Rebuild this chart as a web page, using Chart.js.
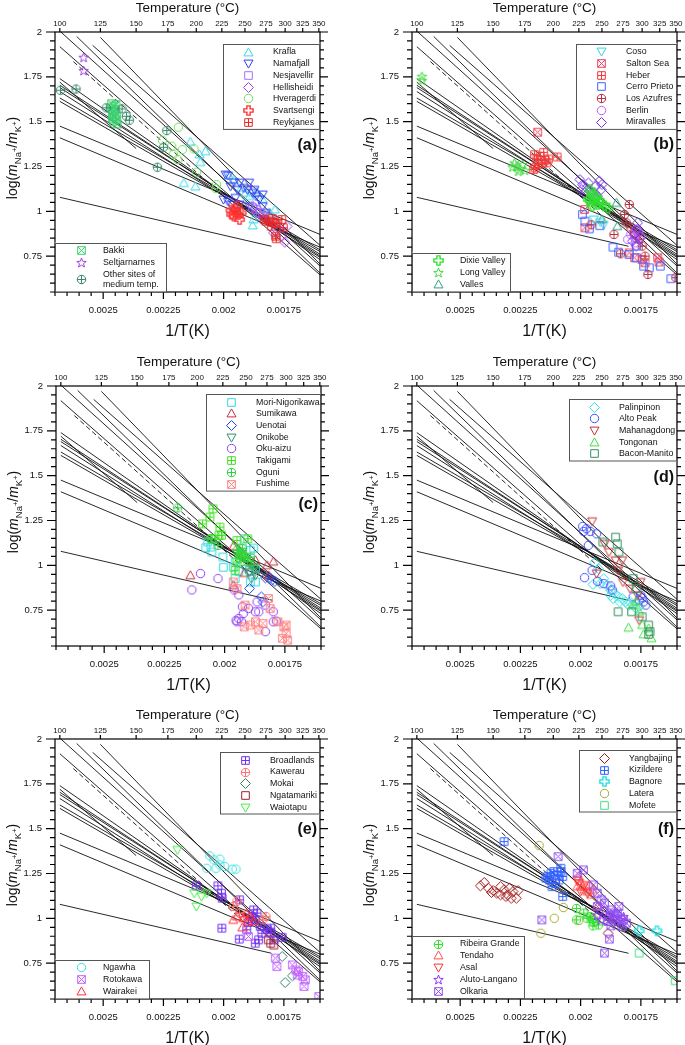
<!DOCTYPE html>
<html>
<head>
<meta charset="utf-8">
<script src="https://cdn.jsdelivr.net/npm/chart.js@4.4.1/dist/chart.umd.min.js"></script>
<style>
  body { margin: 0; background: #fff; width: 685px; height: 1045px; position: relative; overflow: hidden; }
  canvas { position: absolute; }
</style>
</head>
<body>
<script>
// axis ticks
const tempTicks = [100, 125, 150, 175, 200, 225, 250, 275, 300, 325, 350];
const invTTicks = [0.0025, 0.00225, 0.002, 0.00175];
const invTLabels = ['0.0025', '0.00225', '0.002', '0.00175'];
const logTicks = [0.75, 1, 1.25, 1.5, 1.75, 2];
const logLabels = ['0.75', '1', '1.25', '1.5', '1.75', '2'];

// Na/K geothermometer lines (start / end temperature in °C and log value)
const lineStartT = [100, 110, 125, 120, 100, 100, 100, 100, 100, 100, 100, 100, 100, 100, 100];
const lineStartLog = [2.005, 1.975, 1.97, 1.925, 1.918, 1.74, 1.72, 1.703, 1.69, 1.668, 1.632, 1.613, 1.475, 1.41, 1.078];
const lineEndT = [352, 352, 352, 352, 352, 352, 150, 352, 352, 352, 352, 352, 352, 352, 282];
const lineEndLog = [0.695, 0.655, 0.705, 0.81, 0.645, 0.73, 1.35, 0.75, 0.76, 0.743, 0.785, 0.775, 0.871, 0.80, 0.805];
const dashT = [108, 250];
const dashLog = [1.835, 0.975];

// (a) Iceland  [T °C, log(mNa/mK)]
const krafla = [[194.5,1.387],[208.7,1.335],[203,1.317],[203.7,1.274],[188.7,1.157],[199.2,1.138],[237.8,1.177],[245.8,1.131],[250.6,1.103],[263.7,1.108],[271,1.066],[260.1,0.954],[279.5,0.991],[286.4,1.01],[259,0.921],[232,1.2],[255,1.085]];
const namafjall = [[228.8,1.205],[231.4,1.2],[234,1.14],[237.8,1.162],[241.7,1.12],[244,1.16],[248.9,1.13],[252.8,1.12],[258.9,1.103],[263,1.084],[267,1.066],[239.4,1.075],[226.6,1.066],[231.4,1.056],[234.6,1.038],[244,1.038],[254.8,1.029],[271,1.029],[275,0.991],[261,1.12],[254.8,1.16],[271,1.094]];
const nesjavellir = [[263,1.01],[271,0.973],[279.5,0.964],[258.9,1.019],[286.8,0.936],[268,0.99]];
const hellisheidi = [[259,1.029],[265,0.991],[275,0.954],[288.7,0.899],[302.7,0.917],[295.5,0.861],[299.6,0.828],[284.5,0.88]];
const hveragerdi = [[183.9,1.469],[170.5,1.396],[178.2,1.363],[187.4,1.344],[179.5,1.317],[183.4,1.289],[197.9,1.348],[200.3,1.218],[219.6,1.149],[219,1.127]];
const svartsengi = [[235.3,0.982],[239.4,1.01],[242.6,0.982],[244,0.954],[237.8,0.973],[245.8,0.991],[241,1.029],[234.6,1.006],[240,0.995]];
const reykjanes = [[273,0.954],[279.5,0.945],[286.4,0.936],[288.9,0.932],[297.7,0.908],[281.8,0.917],[288.2,0.847],[287.3,0.861],[275,0.945],[295.5,0.954],[283,0.96]];
const bakki = [[132.5,1.6],[134.1,1.586],[135.2,1.567],[133,1.549],[134.6,1.53],[136,1.511],[133.6,1.502],[136.4,1.487],[132.5,1.576],[135.5,1.595],[134,1.56],[135.8,1.54],[133.2,1.52]];
const seltjarnarnes = [[114.3,1.859],[114.3,1.785]];
const otherSites = [[100.4,1.675],[109.6,1.682],[128.9,1.577],[139.8,1.571],[142.9,1.53],[145,1.508],[174.1,1.45],[171.4,1.357],[166.4,1.246]];

// (b) North and Central America
const coso = [[248,0.94],[252,0.925],[241,0.955]];
const saltonSea = [[185.9,1.441],[231.3,0.908],[231,1.01],[300,0.731],[322,0.741],[324,0.717],[290,0.741],[304,0.713],[283,0.768]];
const heber = [[183.2,1.316],[185.3,1.289],[186.8,1.261],[189.7,1.27],[192.6,1.285],[191.2,1.329],[195.6,1.292],[188.2,1.307],[183.8,1.242],[203.6,1.303],[182.4,1.233],[194.1,1.27]];
const cerroPrieto = [[228.7,0.982],[231.3,0.945],[236.1,0.902],[247.6,0.92],[262.8,0.8],[269.6,0.772],[282.7,0.759],[292.3,0.741],[292.3,0.806],[302,0.694],[310,0.685],[326,0.694],[342,0.624]];
const losAzufres = [[264,0.871],[272,0.763],[283,1.038],[277,0.982],[279,0.936],[290,0.88],[292,0.852],[300,0.806],[304,0.75],[308,0.648],[350,0.63],[238,0.925],[285,0.908],[296,0.843]];
const berlin = [[292,0.9],[295,0.88],[290,0.852],[298,0.861],[285,0.871],[281,0.843],[291,0.824]];
const miravalles = [[226,1.177],[229,1.149],[233,1.131],[237,1.112],[241,1.103],[245,1.084],[249,1.121],[235,1.158],[243,1.14],[247,1.168],[239,1.075],[231,1.103],[228,1.121],[250,1.149],[294,0.9],[290,0.871],[298,0.852],[287,0.834],[292,0.806],[294,0.936]];
const dixieValley = [[237,1.121],[239,1.094],[235,1.066],[241,1.057],[245,1.038],[239,1.029],[249,1.047],[243,1.084],[237,1.057],[253,1.029],[257,1.019],[247,1.061]];
const longValley = [[103,1.731],[103,1.753],[166.5,1.27],[168,1.251],[171,1.237],[175,1.229],[169.5,1.224],[165,1.248],[173,1.261]];
const valles = [[267,1.047],[250,0.954],[268,0.917]];

// (c) Japan
const moriNigorikawa = [[208,1.098],[210,1.13],[214,1.074],[213,1.102],[225,1.046],[225.5,0.989],[236,0.989],[238,1.017],[242,0.965],[246,1.096],[248,1.148],[255,1.083],[259,1.096],[261,0.985],[254,0.972],[255,0.907],[261,0.907],[238,0.926]];
const sumikawa = [[193.6,0.944],[236,1.106],[261,1.028],[275,1.0],[283,1.02],[277,0.944],[248,0.957],[236,0.889]];
const uenotai = [[273,0.93],[281,0.917],[285,0.911],[279,0.93],[268,0.824],[270,0.796],[254,0.87]];
const onikobe = [[254,0.963],[259,0.972],[261,0.944],[256,0.926],[250,0.981]];
const okuAizu = [[203,0.954],[195,0.863],[220,0.926],[237,0.863],[242,0.835],[246,0.769],[253,0.76],[247,0.731],[242,0.704],[240,0.685],[245,0.685],[263,0.796],[265,0.741],[273,0.778],[283,0.741],[283,0.685],[287,0.689],[273,0.63],[261,0.741],[239,0.693]];
const takigami = [[205,1.231],[212,1.269],[215,1.315],[214,1.148],[222,1.213],[223.6,1.167],[221,1.167],[240,1.139],[245,1.074],[252,1.148],[240,1.019],[238,0.972],[244,1.056],[248,1.046]];
const oguni = [[182.5,1.32],[220,1.111],[213,1.148],[240,1.083],[242,1.065],[246,1.093],[249.5,1.041],[252,1.019],[255,1.046],[259,1.0],[243,1.037]];
const fushime = [[236,0.907],[249,0.778],[255,0.667],[261,0.685],[265,0.639],[270,0.676],[277,0.815],[279,0.759],[289,0.685],[297,0.657],[300,0.667],[295,0.593],[302,0.583],[300,0.62],[240,0.87],[248,0.657]];

// (d) Philippines
const palinpinon = [[242,1.015],[246,0.981],[252,0.926],[256,0.889],[260,0.861],[265,0.843],[269,0.824],[274,0.815],[278,0.796],[282,0.778],[284,0.796],[288,0.778],[292,0.759],[296,0.769],[248,0.898],[240,0.893],[260,0.833],[263,0.815],[271,0.796]];
const altoPeak = [[229,1.217],[230,1.189],[233,1.204],[237,1.189],[244,1.176],[235,1.111],[239,0.972],[231,0.931],[245,0.911],[252,0.898],[260,0.885],[262,0.863],[298,0.833],[300,0.819],[302,0.796],[305,0.778],[296,0.806],[288,0.824]];
const mahanagdong = [[239,1.246],[253,1.12],[258,1.074],[266,1.028],[274,1.028],[269,0.972],[244,0.954],[275,0.907],[284,0.87],[294,0.833],[296,0.694],[298,0.907]];
const tongonan = [[292,0.796],[282,0.652],[300,0.667],[302,0.615],[313,0.593],[309,0.648],[296,0.741],[288,0.778]];
const baconManito = [[251,1.13],[266,1.157],[268,1.12],[270,1.074],[269,0.741],[286,0.741],[288,0.926],[300,0.713],[309,0.667],[311,0.63],[309,0.615],[292,0.87]];

// (e) New Zealand
const broadlands = [[200,1.181],[221,1.181],[224.6,1.14],[225.3,1.112],[225,0.945],[244,1.103],[243.6,0.884],[252,0.936],[254,0.977],[258,1.01],[260,1.047],[262,0.991],[264,1.029],[268,0.954],[270,0.917],[277,0.936],[281,0.917],[285,0.88],[296,0.894],[262,0.861],[266,0.88],[281,0.945]];
const kawerau = [[241,1.094],[275,1.01],[244,1.028],[248,1.01],[237,1.066],[271,0.991]];
const mokai = [[296,0.787],[300,0.642],[310,0.679]];
const ngatamariki = [[281,0.861],[285,0.851],[278,0.88]];
const waiotapu = [[183,1.382],[198,1.14],[200,1.066],[205,1.121],[210,1.14]];
const ngawha = [[213,1.348],[217,1.326],[223,1.33],[210,1.279],[219,1.279],[228,1.289],[236,1.274],[240,1.274],[223,1.298]];
const rotokawa = [[254,0.899],[287,0.778],[289,0.731],[310,0.74],[315,0.712],[319,0.703],[325,0.676],[329,0.657],[327,0.62],[350,0.564],[317,0.684]];
const wairakei = [[237,0.991],[241,1.01],[248,1.0],[252,1.028],[256,1.01],[260,0.982],[247,0.949],[253,0.982]];

// (f) Asia, Europe and Africa
const yangbajing = [[140.7,1.181],[143.5,1.2],[146.5,1.168],[150,1.155],[152.8,1.14],[155.6,1.177],[158.3,1.159],[161.1,1.131],[162.5,1.168],[165.3,1.149],[168,1.112],[163.9,1.112],[159.7,1.121],[155.6,1.131],[169.4,1.155],[148.8,1.144],[257,0.917]];
const kizildere = [[158.3,1.428],[193.3,1.224],[196.3,1.214],[197.9,1.251],[200.4,1.261],[203.8,1.242],[205.5,1.214],[208.9,1.233],[202.1,1.196],[198.8,1.177],[194.8,1.233],[207.2,1.261],[208.9,1.121],[207.2,1.279]];
const bagnore = [[296,0.93],[321,0.93]];
const latera = [[187.2,1.406],[200.9,1.0],[209.5,1.06],[188.7,0.917],[225,0.988],[240,1.0]];
const mofete = [[296,0.806],[349,0.652]];
const ribeiraGrande = [[222.6,1.055],[222.6,0.991],[230.1,1.029],[237,1.01],[239.9,0.958],[240.6,0.977],[233.6,1.0],[239.2,0.991],[246,0.963]];
const tendaho = [[225,1.233],[226.9,1.205],[228.7,1.177],[230.6,1.159],[234.3,1.149],[238,1.131],[232.5,1.177],[236.2,1.186],[244.8,1.066],[223.3,1.177],[239.9,1.159]];
const asal = [[225,1.196],[230.6,1.186],[226.9,1.149],[234.3,1.14],[223.3,1.214]];
const alutoLangano = [[252.9,1.047],[256.7,1.01],[260.4,1.029],[264.2,1.001],[268,0.982],[271.8,0.991],[275.7,1.01],[249.1,0.991],[266.1,1.029],[244.8,1.019]];
const olkaria = [[204.5,1.344],[223.3,1.251],[229.8,1.27],[240.6,1.186],[244.8,1.14],[249.1,1.103],[252.9,1.084],[260.4,1.047],[264.2,1.019],[268,1.029],[271.8,1.001],[275.7,0.991],[269.9,1.066],[256.7,0.982],[260.4,0.958],[252.9,0.806],[258.6,0.884],[189.6,0.991],[273.8,0.954],[279.5,0.973],[244.8,1.066]];

const FONT = '"Liberation Sans", Arial, Helvetica, sans-serif';
Chart.defaults.font.family = FONT;
Chart.defaults.color = '#111';

const X_MIN = 0.0016, X_MAX = 0.0027, Y_MIN = 0.55, Y_MAX = 2;
const PLOT_W = 265, PLOT_H = 260, AXIS_L = 55, AXIS_T = 32, AXIS_B = 50;
const invT = t => 1 / (t + 273.15);

// hollow marker symbols drawn once into small canvases
function makeMarker(shape, color) {
  const s = 13, m = 6.5;
  const c = document.createElement('canvas');
  c.width = s; c.height = s;
  const g = c.getContext('2d');
  g.strokeStyle = color;
  g.lineWidth = shape === 'plus' ? 1.4 : 1;
  g.beginPath();
  if (shape === 'triUp') {
    g.moveTo(m, m - 4.6); g.lineTo(m + 4.5, m + 3.4); g.lineTo(m - 4.5, m + 3.4); g.closePath();
  } else if (shape === 'triDown') {
    g.moveTo(m, m + 4.6); g.lineTo(m + 4.5, m - 3.4); g.lineTo(m - 4.5, m - 3.4); g.closePath();
  } else if (shape === 'diamond') {
    g.moveTo(m, m - 5); g.lineTo(m + 5, m); g.lineTo(m, m + 5); g.lineTo(m - 5, m); g.closePath();
  } else if (shape === 'circle' || shape === 'circlePlus') {
    g.arc(m, m, 4.2, 0, Math.PI * 2);
    if (shape === 'circlePlus') {
      g.moveTo(m - 4.2, m); g.lineTo(m + 4.2, m); g.moveTo(m, m - 4.2); g.lineTo(m, m + 4.2);
    }
  } else if (shape === 'square' || shape === 'boxPlus' || shape === 'boxX') {
    g.rect(m - 3.8, m - 3.8, 7.6, 7.6);
    if (shape === 'boxPlus') {
      g.moveTo(m - 3.8, m); g.lineTo(m + 3.8, m); g.moveTo(m, m - 3.8); g.lineTo(m, m + 3.8);
    } else if (shape === 'boxX') {
      g.moveTo(m - 3.8, m - 3.8); g.lineTo(m + 3.8, m + 3.8); g.moveTo(m + 3.8, m - 3.8); g.lineTo(m - 3.8, m + 3.8);
    }
  } else if (shape === 'plus') {
    const a = 1.6, L = 4.6;
    const pts = [[-a,-L],[a,-L],[a,-a],[L,-a],[L,a],[a,a],[a,L],[-a,L],[-a,a],[-L,a],[-L,-a],[-a,-a]];
    pts.forEach((p, i) => i ? g.lineTo(m + p[0], m + p[1]) : g.moveTo(m + p[0], m + p[1]));
    g.closePath();
  } else if (shape === 'star') {
    for (let i = 0; i < 10; i++) {
      const r = i % 2 ? 2.1 : 5;
      const ang = -Math.PI / 2 + i * Math.PI / 5;
      const px = m + r * Math.cos(ang), py = m + 0.5 + r * Math.sin(ang);
      i ? g.lineTo(px, py) : g.moveTo(px, py);
    }
    g.closePath();
  }
  g.stroke();
  return c;
}

const panels = [
  { px: 55, py: 32, tag: '(a)', tagY: 114, topW: 97, topY: 11.7, nTop: 7, botW: 112, series: [
    ['Krafla', krafla, 'triUp', '#38d9e8'],
    ['Namafjall', namafjall, 'triDown', '#2f3cf5'],
    ['Nesjavellir', nesjavellir, 'square', '#a070ff'],
    ['Hellisheidi', hellisheidi, 'diamond', '#a040f0'],
    ['Hveragerdi', hveragerdi, 'circle', '#6ee05a'],
    ['Svartsengi', svartsengi, 'plus', '#ff3030'],
    ['Reykjanes', reykjanes, 'boxPlus', '#e82828'],
    ['Bakki', bakki, 'boxX', '#3cd070'],
    ['Seltjarnarnes', seltjarnarnes, 'star', '#a040e8'],
    ['Other sites of\nmedium temp.', otherSites, 'circlePlus', '#3a8a6a']
  ]},
  { px: 412, py: 32, tag: '(b)', tagY: 113, topW: 101, topY: 11.5, nTop: 7, botW: 99, series: [
    ['Coso', coso, 'triDown', '#2fd8e0'],
    ['Salton Sea', saltonSea, 'boxX', '#f04060'],
    ['Heber', heber, 'boxPlus', '#f03838'],
    ['Cerro Prieto', cerroPrieto, 'square', '#4060ff'],
    ['Los Azufres', losAzufres, 'circlePlus', '#b83040'],
    ['Berlin', berlin, 'circle', '#c060ff'],
    ['Miravalles', miravalles, 'diamond', '#7030f0'],
    ['Dixie Valley', dixieValley, 'plus', '#30e030'],
    ['Long Valley', longValley, 'star', '#40d840'],
    ['Valles', valles, 'triUp', '#30a080']
  ]},
  { px: 56, py: 386, tag: '(c)', tagY: 119, topW: 115, topY: 7.8, nTop: 8, botW: 0, series: [
    ['Mori-Nigorikawa', moriNigorikawa, 'square', '#30d8e0'],
    ['Sumikawa', sumikawa, 'triUp', '#c83040'],
    ['Uenotai', uenotai, 'diamond', '#2040e8'],
    ['Onikobe', onikobe, 'triDown', '#309070'],
    ['Oku-aizu', okuAizu, 'circle', '#9040f0'],
    ['Takigami', takigami, 'boxPlus', '#40e020'],
    ['Oguni', oguni, 'circlePlus', '#30d040'],
    ['Fushime', fushime, 'boxX', '#ff8080']
  ]},
  { px: 412, py: 386, tag: '(d)', tagY: 92, topW: 108, topY: 12.8, nTop: 5, botW: 0, series: [
    ['Palinpinon', palinpinon, 'diamond', '#30e0e0'],
    ['Alto Peak', altoPeak, 'circle', '#4050ff'],
    ['Mahanagdong', mahanagdong, 'triDown', '#c83030'],
    ['Tongonan', tongonan, 'triUp', '#40e040'],
    ['Bacon-Manito', baconManito, 'square', '#309060']
  ]},
  { px: 55, py: 739, tag: '(e)', tagY: 91, topW: 100, topY: 13, nTop: 5, botW: 95, series: [
    ['Broadlands', broadlands, 'boxPlus', '#7030f0'],
    ['Kawerau', kawerau, 'circlePlus', '#ff7070'],
    ['Mokai', mokai, 'diamond', '#308060'],
    ['Ngatamariki', ngatamariki, 'square', '#a02030'],
    ['Waiotapu', waiotapu, 'triDown', '#40f040'],
    ['Ngawha', ngawha, 'circle', '#40e0e0'],
    ['Rotokawa', rotokawa, 'boxX', '#c060ff'],
    ['Wairakei', wairakei, 'triUp', '#ff3040']
  ]},
  { px: 412, py: 739, tag: '(f)', tagY: 91, topW: 98, topY: 11, nTop: 5, botW: 113, series: [
    ['Yangbajing', yangbajing, 'diamond', '#a01818'],
    ['Kizildere', kizildere, 'boxPlus', '#3060ff'],
    ['Bagnore', bagnore, 'plus', '#20e0e0'],
    ['Latera', latera, 'circle', '#a8a830'],
    ['Mofete', mofete, 'square', '#40e080'],
    ['Ribeira Grande', ribeiraGrande, 'circlePlus', '#30e030'],
    ['Tendaho', tendaho, 'triUp', '#ff5050'],
    ['Asal', asal, 'triDown', '#ff3030'],
    ['Aluto-Langano', alutoLangano, 'star', '#9030ff'],
    ['Olkaria', olkaria, 'boxX', '#9050f0']
  ]}
];

function drawYTitle(ctx, cx, cy) {
  const parts = [
    ['log(', '14px', 0], ['m', 'italic 14px', 0], ['Na', '9.5px', 3.5], ['+', '7.5px', 0],
    ['/', '14px', 0], ['m', 'italic 14px', 0], ['K', '9.5px', 3.5], ['+', '7.5px', 0], [')', '14px', 0]
  ];
  ctx.save();
  ctx.translate(cx, cy);
  ctx.rotate(-Math.PI / 2);
  ctx.fillStyle = '#111';
  ctx.textAlign = 'left';
  ctx.textBaseline = 'alphabetic';
  let total = 0;
  parts.forEach(p => { ctx.font = p[1] + ' ' + FONT; total += ctx.measureText(p[0]).width; });
  let x = -total / 2;
  parts.forEach(p => {
    ctx.font = p[1] + ' ' + FONT;
    ctx.fillText(p[0], x, 5 + p[2]);
    x += ctx.measureText(p[0]).width;
  });
  ctx.restore();
}

function drawLegend(ctx, x0, yTop, yBottom, w, items, mx, tx, firstY, gap) {
  let y = firstY;
  const rows = items.map(it => {
    const lines = it.name.split('\n');
    const r = { it, lines, y };
    y += gap + (lines.length - 1) * 10;
    return r;
  });
  const last = rows[rows.length - 1];
  const h = last.y + (last.lines.length - 1) * 10 + (gap - firstY) + 4;
  const y0 = yTop !== null ? yTop : yBottom - h;
  ctx.fillStyle = '#fff';
  ctx.fillRect(x0, y0, w, h);
  ctx.strokeStyle = '#555';
  ctx.lineWidth = 1;
  ctx.strokeRect(Math.round(x0) + 0.5, Math.round(y0) + 0.5, w - 1, h - 1);
  ctx.font = '8.8px ' + FONT;
  ctx.fillStyle = '#111';
  ctx.textBaseline = 'middle';
  ctx.textAlign = 'left';
  rows.forEach(r => {
    const my = y0 + r.y + (r.lines.length - 1) * 5;
    ctx.drawImage(r.it.img, Math.round(x0 + mx - 6.5), Math.round(my - 6.5));
    r.lines.forEach((t, k) => ctx.fillText(t, x0 + tx, y0 + r.y + k * 10));
  });
}

function framePlugin(p) {
  return {
    id: 'frame',
    afterDraw(chart) {
      const ctx = chart.ctx, a = chart.chartArea;
      const xs = chart.scales.x, ys = chart.scales.y, x2 = chart.scales.x2;
      ctx.save();
      ctx.strokeStyle = '#000';
      ctx.lineWidth = 1.2;
      ctx.beginPath();
      for (let i = 0; i <= 29; i++) {
        const v = Y_MIN + i * 0.05;
        const y = ys.getPixelForValue(v);
        const major = Math.abs(v / 0.25 - Math.round(v / 0.25)) < 1e-6;
        ctx.moveTo(a.left, y); ctx.lineTo(a.left - (major ? 9 : 5), y);
        ctx.moveTo(a.right, y); ctx.lineTo(a.right + (major ? 8 : 4), y);
      }
      for (let i = 0; i <= 22; i++) {
        const v = X_MIN + i * 0.00005;
        const x = xs.getPixelForValue(v);
        const major = Math.abs(v / 0.00025 - Math.round(v / 0.00025)) < 1e-6;
        ctx.moveTo(x, a.bottom); ctx.lineTo(x, a.bottom + (major ? 7 : 4));
      }
      tempTicks.forEach(t => {
        const x = x2.getPixelForValue(invT(t));
        ctx.moveTo(x, a.top); ctx.lineTo(x, a.top - 4);
      });
      ctx.stroke();
      ctx.strokeRect(a.left, a.top, a.right - a.left, a.bottom - a.top);

      const items = p.series.map(s => ({ name: s[0], img: s.img }));
      drawLegend(ctx, a.right - p.topW, a.top + p.topY, null, p.topW, items.slice(0, p.nTop), 25, 50, 8.3, 11.7);
      if (items.length > p.nTop) {
        drawLegend(ctx, a.left, null, a.bottom, p.botW, items.slice(p.nTop), 26, 48, 8, 11.8);
      }

      ctx.font = 'bold 16px ' + FONT;
      ctx.fillStyle = '#111';
      ctx.textAlign = 'right';
      ctx.textBaseline = 'middle';
      ctx.fillText(p.tag, a.right - 3, a.top + p.tagY);

      drawYTitle(ctx, a.left - 43, (a.top + a.bottom) / 2 - 4);
      ctx.restore();
    }
  };
}

function buildPanel(p) {
  const padR = p.px > 300 ? 685 - p.px - PLOT_W : 22;
  const w = AXIS_L + PLOT_W + padR, h = AXIS_T + PLOT_H + AXIS_B;
  const cv = document.createElement('canvas');
  cv.width = w; cv.height = h;
  cv.style.left = (p.px - AXIS_L) + 'px';
  cv.style.top = (p.py - AXIS_T) + 'px';
  cv.style.width = w + 'px';
  cv.style.height = h + 'px';
  document.body.appendChild(cv);

  const datasets = [];
  p.series.forEach((s, i) => {
    s.img = makeMarker(s[2], s[3]);
    datasets.push({
      type: 'scatter', label: s[0], xAxisID: 'x', yAxisID: 'y',
      data: s[1].map(d => ({ x: invT(d[0]), y: d[1] })),
      pointStyle: s.img, pointRadius: 4, pointHoverRadius: 4, order: -i
    });
  });
  lineStartT.forEach((t, i) => {
    datasets.push({
      type: 'line', xAxisID: 'x', yAxisID: 'y',
      data: [{ x: invT(t), y: lineStartLog[i] }, { x: invT(lineEndT[i]), y: lineEndLog[i] }],
      borderColor: '#111', borderWidth: 0.9, pointRadius: 0, fill: false, order: 100
    });
  });
  datasets.push({
    type: 'line', xAxisID: 'x', yAxisID: 'y',
    data: dashT.map((t, i) => ({ x: invT(t), y: dashLog[i] })),
    borderColor: '#111', borderWidth: 0.9, borderDash: [5, 3], pointRadius: 0, fill: false, order: 100
  });

  const noGrid = { display: false, drawTicks: false };
  new Chart(cv, {
    type: 'scatter',
    data: { datasets },
    options: {
      responsive: false,
      animation: false,
      devicePixelRatio: 1,
      layout: { padding: { left: 0, right: padR, top: 0, bottom: 0 } },
      plugins: { legend: { display: false }, tooltip: { enabled: false } },
      scales: {
        x: {
          type: 'linear', position: 'bottom', reverse: true, min: X_MIN, max: X_MAX,
          grid: noGrid, border: { display: false },
          afterBuildTicks: s => { s.ticks = invTTicks.map(v => ({ value: v })); },
          afterFit: s => { s.height = AXIS_B; s.paddingLeft = 0; s.paddingRight = 0; },
          ticks: { autoSkip: false, maxRotation: 0, minRotation: 0, padding: 13, font: { size: 9.5 },
                   callback: (v, i) => invTLabels[i] },
          title: { display: true, text: '1/T(K)', font: { size: 16, lineHeight: 1 }, padding: { top: 0, bottom: 2 } }
        },
        x2: {
          type: 'linear', position: 'top', reverse: true, min: X_MIN, max: X_MAX,
          grid: noGrid, border: { display: false },
          afterBuildTicks: s => { s.ticks = tempTicks.map(t => ({ value: invT(t) })); },
          afterFit: s => { s.height = AXIS_T; s.paddingLeft = 0; s.paddingRight = 0; },
          ticks: { autoSkip: false, maxRotation: 0, minRotation: 0, padding: 3.7, font: { size: 8 },
                   callback: (v, i) => String(tempTicks[i]) },
          title: { display: true, text: 'Temperature (°C)', font: { size: 13.5, lineHeight: 1 }, padding: { top: 2, bottom: 0 } }
        },
        y: {
          type: 'linear', position: 'left', min: Y_MIN, max: Y_MAX,
          grid: noGrid, border: { display: false },
          afterBuildTicks: s => { s.ticks = logTicks.map(v => ({ value: v })); },
          afterFit: s => { s.width = AXIS_L; s.paddingTop = 0; s.paddingBottom = 0; },
          ticks: { autoSkip: false, padding: 13, font: { size: 9.5 }, callback: (v, i) => logLabels[i] }
        }
      }
    },
    plugins: [framePlugin(p)]
  });
}

panels.forEach(buildPanel);
</script>
</body>
</html>
